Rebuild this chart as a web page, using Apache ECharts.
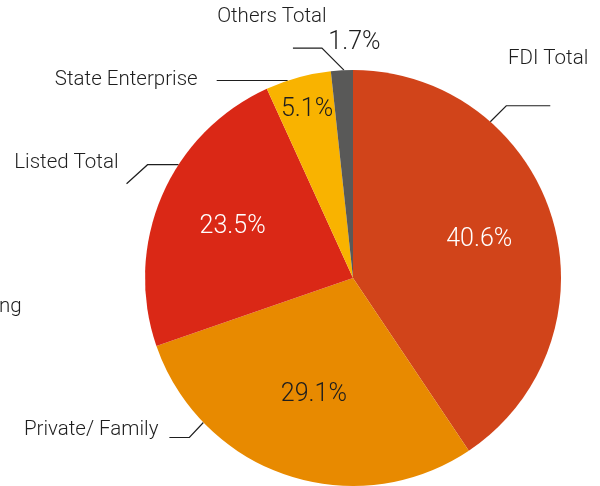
<!DOCTYPE html>
<html>
<head>
<meta charset="utf-8">
<script src="https://cdn.jsdelivr.net/npm/echarts@6/dist/echarts.min.js"></script>
<style>
  html, body { margin: 0; padding: 0; background: #fff; }
  #chart { width: 600px; height: 486px; }
</style>
</head>
<body>
<div id="chart"></div>
<script>
// data
const categories = ["FDI Total", "Private/ Family", "Listed Total", "State Enterprise", "Others Total"];
const shares = [40.6, 29.1, 23.5, 5.1, 1.7];
const sliceColors = ["#D1441A", "#E88A00", "#DA2816", "#F9B300", "#595958"];
const percentColors = ["#ffffff", "#1e1e1e", "#ffffff", "#1e1e1e", "#1e1e1e"];

// pie geometry
const CX = 353, CY = 278, R = 208;
const FONT = "Roboto";

// leader lines: anchor on the rim (deg clockwise from 12 o'clock), then steps, then text offset
const leaders = [
  { angle: 41.3, steps: [[16, -16], [44, 0]], text: [38, -47], align: "right" },
  { angle: 226, steps: [[-14, 15], [-20, 0]], text: [-11, -8], align: "right" },
  { angle: 303, steps: [[-31, 0], [-21, 19]], text: [-8, -21], align: "right" },
  { angle: 341.7, steps: [[-71, 0]], text: [-19, -1], align: "right" },
  { angle: 357.5, steps: [[-22, -22], [-29, 0]], text: [-21, -31], align: "center" }
];
// percentage labels: distance from centre and a small sideways nudge
const pctDist = [132, 123, 131, 174, 236];
const pctNudge = [0, 0, 0, 0, 14];

const total = shares.reduce((a, b) => a + b, 0);
const midAngles = [];
let acc = 0;
shares.forEach(v => {
  midAngles.push((acc + v / 2) / total * 360);
  acc += v;
});

function polar(deg, d) {
  const a = deg * Math.PI / 180;
  return [CX + d * Math.sin(a), CY - d * Math.cos(a)];
}

const chart = echarts.init(document.getElementById("chart"));

const option = {
  animation: false,
  backgroundColor: "#ffffff",
  graphic: [
    {
      type: "text",
      left: -1,
      top: 296,
      style: { text: "ng", fontSize: 20.5, fontFamily: FONT, fontWeight: 300, fill: "#1e1e1e" }
    }
  ],
  series: [
    {
      type: "pie",
      center: [CX, CY],
      radius: R,
      startAngle: 90,
      clockwise: true,
      avoidLabelOverlap: false,
      silent: true,
      data: categories.map((name, i) => ({
        name: name,
        value: shares[i],
        itemStyle: { color: sliceColors[i] }
      })),
      label: {
        show: true,
        position: "outside",
        formatter: "{b}",
        color: "#1e1e1e",
        fontSize: 20.5,
        fontFamily: FONT,
        fontWeight: 300
      },
      labelLine: {
        show: true,
        length: 10,
        length2: 10,
        lineStyle: { color: "#1e1e1e", width: 1.2 }
      },
      labelLayout: function (p) {
        const L = leaders[p.dataIndex];
        let pt = polar(L.angle, R);
        const pts = [pt.slice()];
        L.steps.forEach(s => {
          pt = [pt[0] + s[0], pt[1] + s[1]];
          pts.push(pt.slice());
        });
        while (pts.length < 3) pts.push(pt.slice());
        return {
          x: pt[0] + L.text[0],
          y: pt[1] + L.text[1],
          align: L.align,
          verticalAlign: "middle",
          labelLinePoints: pts
        };
      }
    },
    {
      type: "pie",
      center: [CX, CY],
      radius: R,
      startAngle: 90,
      clockwise: true,
      silent: true,
      avoidLabelOverlap: false,
      itemStyle: { color: "transparent" },
      data: categories.map((name, i) => ({
        name: name,
        value: shares[i],
        label: { color: percentColors[i] }
      })),
      label: {
        show: true,
        position: "inside",
        formatter: p => p.value.toFixed(1) + "%",
        fontSize: 25,
        fontFamily: FONT,
        fontWeight: 300
      },
      labelLine: { show: false },
      labelLayout: function (p) {
        const i = p.dataIndex;
        const pt = polar(midAngles[i], pctDist[i]);
        return {
          x: pt[0] + pctNudge[i],
          y: pt[1],
          align: "center",
          verticalAlign: "middle"
        };
      }
    }
  ]
};

chart.setOption(option);
</script>
</body>
</html>
